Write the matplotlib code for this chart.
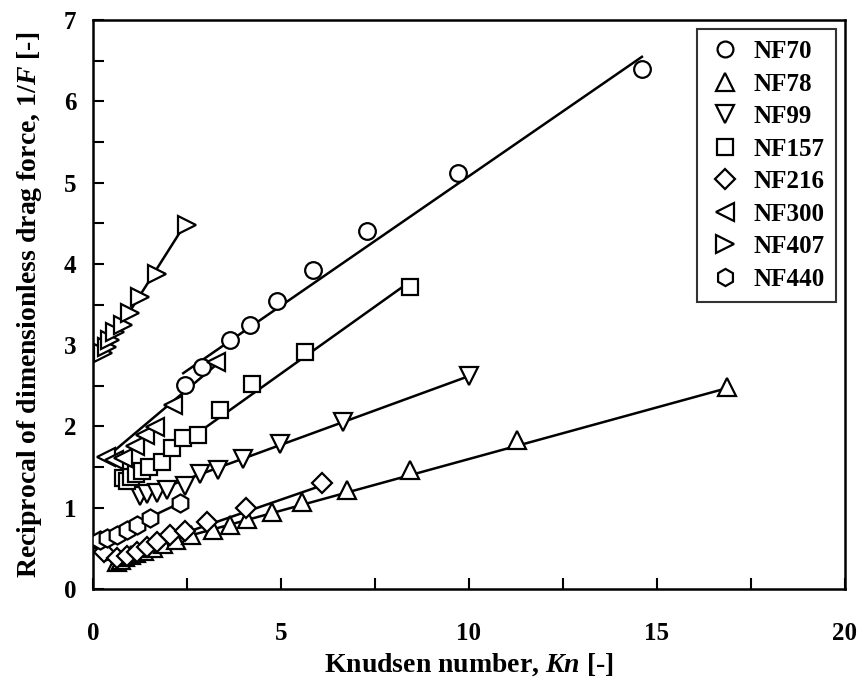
import matplotlib
matplotlib.use('Agg')
import matplotlib.pyplot as plt
import numpy as np
from matplotlib.ticker import MultipleLocator

plt.rcParams['font.family'] = 'Liberation Serif'
plt.rcParams['font.weight'] = 'bold'
plt.rcParams['mathtext.fontset'] = 'custom'
plt.rcParams['mathtext.it'] = 'Liberation Serif:italic:bold'
plt.rcParams['mathtext.rm'] = 'Liberation Serif:bold'

# Series data (Kn, 1/F)
names = ['NF70', 'NF78', 'NF99', 'NF157', 'NF216', 'NF300', 'NF407', 'NF440']
markers = ['o', '^', 'v', 's', 'D', '<', '>', 'h']

kn_nf70 = [2.45, 2.9, 3.64, 4.18, 4.89, 5.85, 7.29, 9.71, 14.6]
f_nf70 = [2.51, 2.73, 3.06, 3.25, 3.54, 3.92, 4.40, 5.12, 6.40]

kn_nf78 = [0.65, 0.75, 0.85, 1.0, 1.15, 1.35, 1.6, 1.85, 2.2, 2.6, 3.19, 3.64, 4.1,
           4.76, 5.56, 6.76, 8.43, 11.28, 16.86]
f_nf78 = [0.33, 0.36, 0.39, 0.42, 0.44, 0.47, 0.51, 0.55, 0.60, 0.66, 0.73, 0.79, 0.86,
          0.95, 1.07, 1.22, 1.46, 1.83, 2.49]

kn_nf99 = [1.25, 1.45, 1.7, 1.97, 2.45, 2.85, 3.32, 3.99, 4.97, 6.65, 10.0]
f_nf99 = [1.15, 1.17, 1.18, 1.22, 1.27, 1.42, 1.47, 1.60, 1.78, 2.06, 2.62]

kn_nf157 = [0.8, 0.9, 1.0, 1.15, 1.3, 1.5, 1.84, 2.1, 2.39, 2.79, 3.38, 4.23, 5.64, 8.43]
f_nf157 = [1.37, 1.33, 1.38, 1.42, 1.45, 1.50, 1.56, 1.73, 1.86, 1.90, 2.20, 2.52, 2.92, 3.72]

kn_nf216 = [0.3, 0.64, 0.9, 1.17, 1.43, 1.70, 2.05, 2.45, 3.03, 4.07, 6.1]
f_nf216 = [0.45, 0.38, 0.41, 0.46, 0.52, 0.58, 0.66, 0.72, 0.82, 1.00, 1.30]

kn_nf300 = [0.35, 0.55, 0.8, 1.12, 1.38, 1.65, 2.13, 3.27]
f_nf300 = [1.63, 1.59, 1.61, 1.76, 1.89, 1.99, 2.27, 2.79]

kn_nf407 = [0.27, 0.37, 0.45, 0.59, 0.80, 0.98, 1.25, 1.70, 2.50]
f_nf407 = [2.90, 2.98, 3.06, 3.16, 3.25, 3.39, 3.59, 3.88, 4.48]

kn_nf440 = [0.19, 0.37, 0.64, 0.90, 1.17, 1.52, 2.31]
f_nf440 = [0.60, 0.63, 0.66, 0.73, 0.79, 0.87, 1.06]

# linear fits: intercept, slope, Kn range of drawn line
fit_a = [1.89, 0.33, 0.93, 1.0, 0.30, 1.48, 2.70, 0.55]
fit_b = [0.319, 0.127, 0.169, 0.33, 0.16, 0.39, 0.73, 0.22]
fit_lo = [2.4, 0.5, 1.2, 0.8, 0.3, 0.3, 0.2, 0.1]
fit_hi = [14.6, 16.9, 10.0, 8.4, 6.1, 3.4, 2.45, 2.3]

kn_all = [kn_nf70, kn_nf78, kn_nf99, kn_nf157, kn_nf216, kn_nf300, kn_nf407, kn_nf440]
f_all = [f_nf70, f_nf78, f_nf99, f_nf157, f_nf216, f_nf300, f_nf407, f_nf440]
sizes = {'o': 12, '^': 13, 'v': 13, 's': 12, 'D': 10.5, '<': 13, '>': 13, 'h': 13}

fig = plt.figure(figsize=(8.64, 6.81), dpi=100)
ax = fig.add_axes([0.1076, 0.135, 0.8704, 0.8356])

for i in range(len(names)):
    xs = np.array([fit_lo[i], fit_hi[i]])
    ax.plot(xs, fit_a[i] + fit_b[i] * xs, '-', color='black', lw=1.8, zorder=2)
for i in range(len(names)):
    ax.plot(kn_all[i], f_all[i], linestyle='none', marker=markers[i],
            ms=sizes[markers[i]], mfc='white', mec='black', mew=1.6,
            label=names[i], zorder=3)

ax.set_xlim(0, 20)
ax.set_ylim(0, 7)
ax.xaxis.set_major_locator(MultipleLocator(5))
ax.xaxis.set_minor_locator(MultipleLocator(2.5))
ax.yaxis.set_major_locator(MultipleLocator(1))
ax.yaxis.set_minor_locator(MultipleLocator(0.5))
ax.tick_params(which='both', direction='in', width=1.5, labelsize=18)
ax.tick_params(which='major', length=8)
ax.tick_params(which='minor', length=8)
ax.tick_params(axis='x', pad=24)
ax.tick_params(axis='y', pad=12)
for sp in ax.spines.values():
    sp.set_linewidth(1.8)

ax.set_xlabel(r'Knudsen number, $Kn$ [-]', fontsize=20, fontweight='bold', labelpad=4)
ax.set_ylabel(r'Reciprocal of dimensionless drag force, 1/$F$ [-]', fontsize=20,
              fontweight='bold', labelpad=14)

leg = ax.legend(loc='upper right', fontsize=18, frameon=True, fancybox=False,
                edgecolor='black', handletextpad=0.5, borderpad=0.45,
                labelspacing=0.38, handlelength=1.3, borderaxespad=0.35,
                markerscale=0.95)
leg.get_frame().set_linewidth(1.5)
for t in leg.get_texts():
    t.set_fontweight('bold')

fig.savefig('out.png', dpi=100)
